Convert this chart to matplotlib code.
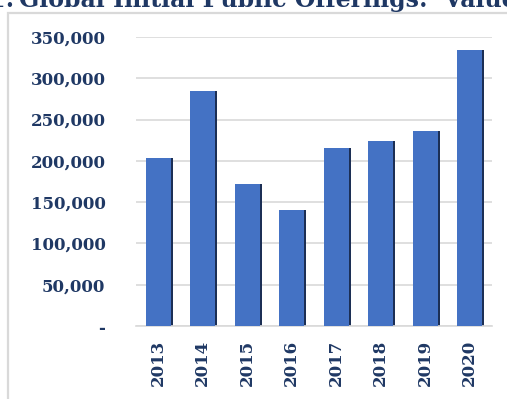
import matplotlib.pyplot as plt
from matplotlib.patches import Rectangle
from matplotlib.ticker import FuncFormatter

# Global IPO proceeds by year
years = ['2013', '2014', '2015', '2016', '2017', '2018', '2019', '2020']
values = [204000, 284000, 172000, 141000, 215000, 224000, 236000, 334000]
yticks = [0, 50000, 100000, 150000, 200000, 250000, 300000, 350000]

navy = '#1f3864'
bar_color = '#4472c4'
shadow_color = '#1c2f55'
grid_color = '#d9d9d9'
font = 'DejaVu Serif'

fig = plt.figure(figsize=(5.07, 3.99), dpi=100)

# chart frame (top/left visible, right/bottom run off the image)
fig.patches.append(Rectangle((8 / 507, -0.05), 1.2, 1 - 13 / 399 + 0.05,
                             transform=fig.transFigure, fill=False,
                             edgecolor=grid_color, linewidth=1.6))

# clipped title at the very top
fig.text(14 / 507, 1 - 7 / 399, 'Figure 1:', ha='right', va='baseline',
         fontsize=17, fontweight='bold', family=font, color=navy)
fig.text(19 / 507, 1 - 7 / 399, 'Global Initial Public Offerings:  Value',
         ha='left', va='baseline', fontsize=17, fontweight='bold',
         family=font, color=navy)

ax = fig.add_axes([136 / 507, 1 - 326 / 399, 356 / 507, 289 / 399])
x = range(len(years))
# dark shadow behind each bar for the bevelled look
ax.bar([i + 0.04 for i in x], values, width=0.58, color=shadow_color,
       zorder=2)
ax.bar(x, values, width=0.56, color=bar_color, zorder=3)

ax.set_xlim(-0.5, len(years) - 0.5)
ax.set_ylim(0, 350000)
ax.set_yticks(yticks)
ax.yaxis.set_major_formatter(FuncFormatter(
    lambda v, p: '-' if v == 0 else f'{int(v):,}'))
ax.set_xticks(list(x))
ax.set_xticklabels(years, rotation=90)
ax.grid(axis='y', color=grid_color, linewidth=1.2, zorder=0)
ax.set_axisbelow(True)

for side in ['top', 'right', 'left']:
    ax.spines[side].set_visible(False)
ax.spines['bottom'].set_color(grid_color)
ax.spines['bottom'].set_linewidth(1.2)
ax.tick_params(length=0, pad=10)
ax.tick_params(axis='y', pad=22)
for lbl in ax.get_xticklabels() + ax.get_yticklabels():
    lbl.set_fontfamily(font)
    lbl.set_fontweight('bold')
    lbl.set_fontsize(12)
    lbl.set_color(navy)

fig.savefig('out.png', dpi=100)
